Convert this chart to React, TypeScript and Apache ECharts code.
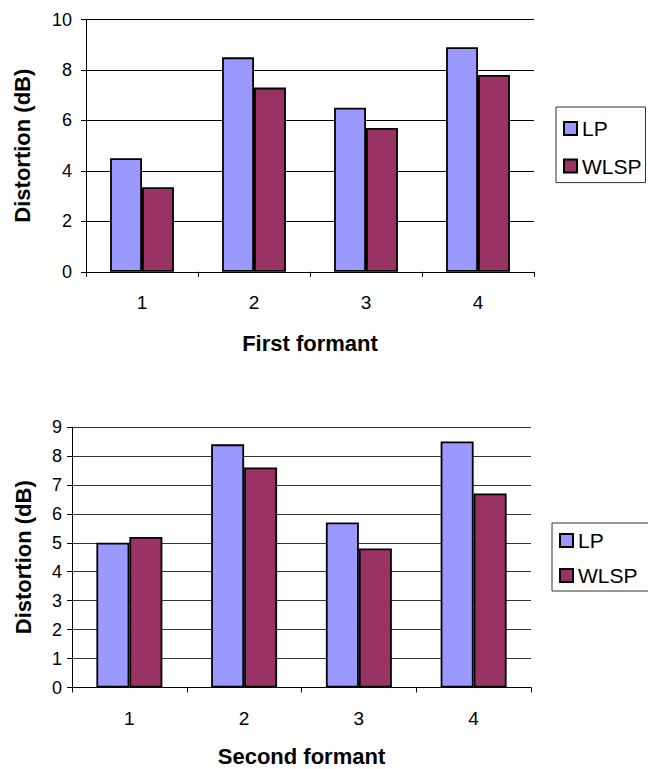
import React, { useEffect, useRef } from "react";
import * as echarts from "echarts";

// Formant index categories shared by both panels
const categories = ["1", "2", "3", "4"];
const seriesNames = ["LP", "WLSP"];

// First formant distortion (dB)
const firstLP = [4.5, 8.5, 6.5, 8.9];
const firstWLSP = [3.35, 7.3, 5.7, 7.8];

// Second formant distortion (dB)
const secondLP = [5.0, 8.4, 5.7, 8.5];
const secondWLSP = [5.2, 7.6, 4.8, 6.7];

const FONT = "Arial, 'Liberation Sans', Helvetica, sans-serif";
const LP_COLOR = "#9999FF";
const WLSP_COLOR = "#993366";

function valueAxis(gridIndex: number, max: number, interval: number, labelMargin: number, nameGap: number, gridColor: string) {
  return {
    type: "value",
    gridIndex,
    min: 0,
    max,
    interval,
    name: "Distortion (dB)",
    nameLocation: "middle",
    nameGap,
    nameRotate: 90,
    nameTextStyle: { fontFamily: FONT, fontSize: 22, fontWeight: "bold", color: "#000" },
    axisLine: { show: true, lineStyle: { color: "#000", width: 1 } },
    axisTick: { show: true, inside: false, length: 5, lineStyle: { color: "#000", width: 1 } },
    axisLabel: { fontFamily: FONT, fontSize: 18, color: "#000", margin: labelMargin },
    splitLine: { show: true, lineStyle: { color: gridColor, width: 1 } },
  };
}

function categoryAxis(gridIndex: number, name: string, nameGap: number) {
  return {
    type: "category",
    gridIndex,
    data: categories,
    boundaryGap: true,
    name,
    nameLocation: "middle",
    nameGap,
    nameTextStyle: { fontFamily: FONT, fontSize: 22, fontWeight: "bold", color: "#000" },
    axisLine: { show: true, lineStyle: { color: "#000", width: 1 } },
    axisTick: { show: true, alignWithLabel: false, length: 5, lineStyle: { color: "#000", width: 1 } },
    axisLabel: { fontFamily: FONT, fontSize: 19, color: "#000", margin: 21 },
    splitLine: { show: false },
  };
}

function barSeries(name: string, data: number[], axisIndex: number, color: string, catGap: string) {
  return {
    type: "bar",
    name,
    data,
    xAxisIndex: axisIndex,
    yAxisIndex: axisIndex,
    barGap: "0%",
    barCategoryGap: catGap,
    itemStyle: { color, borderColor: "#000", borderWidth: 1.8 },
  };
}

function legendBox(left: number, top: number, padding: number[], itemGap: number) {
  return {
    orient: "vertical",
    left,
    top,
    data: seriesNames,
    icon: "rect",
    itemWidth: 13,
    itemHeight: 13,
    itemGap,
    padding,
    borderColor: "#333",
    borderWidth: 1,
    backgroundColor: "#fff",
    selectedMode: false,
    itemStyle: { borderColor: "#000", borderWidth: 2 },
    textStyle: { fontFamily: FONT, fontSize: 21, color: "#000", padding: [0, 0, 0, 0] },
  };
}

export default function App() {
  const ref = useRef<HTMLDivElement>(null);

  useEffect(() => {
    if (!ref.current) return;
    const chart = echarts.init(ref.current, undefined, { renderer: "svg" });
    chart.setOption({
      animation: false,
      backgroundColor: "#fff",
      grid: [
        { left: 86, top: 19.5, width: 448, height: 252.3 },
        { left: 72, top: 427, width: 459, height: 260.5 },
      ],
      legend: [
        legendBox(556, 107, [11, 4, 6, 7], 16.6),
        legendBox(552, 523, [7, 30, 5, 7], 14),
      ],
      xAxis: [
        categoryAxis(0, "First formant", 61),
        categoryAxis(1, "Second formant", 57.5),
      ],
      yAxis: [
        valueAxis(0, 10, 2, 14, 53, "#000"),
        valueAxis(1, 9, 1, 10, 38, "#333"),
      ],
      series: [
        barSeries("LP", firstLP, 0, LP_COLOR, "43%"),
        barSeries("WLSP", firstWLSP, 0, WLSP_COLOR, "43%"),
        barSeries("LP", secondLP, 1, LP_COLOR, "42.5%"),
        barSeries("WLSP", secondWLSP, 1, WLSP_COLOR, "42.5%"),
      ],
    });
    return () => chart.dispose();
  }, []);

  return (
    <div
      ref={ref}
      style={{ position: "absolute", left: 0, top: 0, width: 648, height: 769 }}
    />
  );
}
